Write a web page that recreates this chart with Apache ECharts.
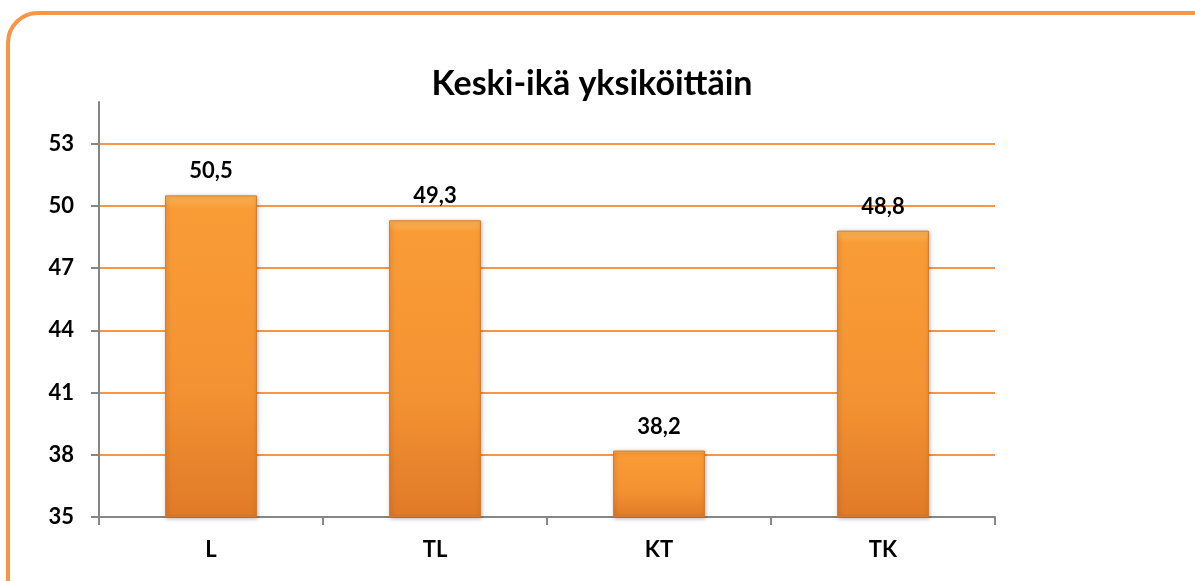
<!DOCTYPE html>
<html>
<head>
<meta charset="utf-8">
<script src="https://cdn.jsdelivr.net/npm/echarts@6/dist/echarts.min.js"></script>
<style>
  html, body { margin: 0; padding: 0; background: #fff; }
  #main { width: 1195px; height: 581px; }
</style>
</head>
<body>
<div id="main"></div>
<script>
// data
const categories = ['L', 'TL', 'KT', 'TK']
const values = [50.5, 49.3, 38.2, 48.8]
const yTicks = [35, 38, 41, 44, 47, 50, 53]

const chart = echarts.init(document.getElementById('main'))
const font = 'Lato, "Open Sans", sans-serif'

const option = {
  backgroundColor: '#fff',
  animation: false,
  graphic: [{
    type: 'rect',
    z: -10,
    shape: { x: 8, y: 13, width: 1230, height: 620, r: 30 },
    style: { fill: '#fff', stroke: '#f79646', lineWidth: 4 }
  }],
  title: {
    text: 'Keski-ikä yksiköittäin',
    left: 587,
    top: 62,
    textAlign: 'center',
    textStyle: { fontFamily: font, fontSize: 34, fontWeight: 'bold', color: '#000' }
  },
  grid: { left: 99, right: 200, top: 102, bottom: 64 },
  xAxis: {
    type: 'category',
    data: categories,
    axisLine: { lineStyle: { color: '#868686', width: 2 } },
    axisTick: { show: true, length: 8, lineStyle: { color: '#868686', width: 2 } },
    axisLabel: { margin: 22, fontFamily: font, fontSize: 22, fontWeight: 'bold', color: '#000' }
  },
  yAxis: {
    type: 'value',
    min: 35,
    max: 55,
    interval: 3,
    axisLine: { show: true, lineStyle: { color: '#868686', width: 2 } },
    axisTick: { show: true, length: 8, customValues: yTicks, lineStyle: { color: '#868686', width: 2 } },
    axisLabel: {
      customValues: yTicks,
      margin: 25,
      fontFamily: font, fontSize: 22, fontWeight: 'bold', color: '#000'
    },
    splitLine: {
      lineStyle: {
        color: ['#f79646', '#f79646', '#f79646', '#f79646', '#f79646', '#f79646', '#f79646', 'rgba(0,0,0,0)'],
        width: 2
      }
    }
  },
  series: [{
    type: 'bar',
    data: values,
    barWidth: '41%',
    itemStyle: {
      color: new echarts.graphic.LinearGradient(0, 0, 0, 1, [
        { offset: 0, color: '#fbb55a' },
        { offset: 0.04, color: '#f99c36' },
        { offset: 0.6, color: '#f39232' },
        { offset: 1, color: '#e07a28' }
      ]),
      borderColor: '#d9782a',
      borderWidth: 1,
      shadowColor: 'rgba(0,0,0,0.3)',
      shadowBlur: 4,
      shadowOffsetX: 1,
      shadowOffsetY: 1
    },
    label: {
      show: true,
      position: 'top',
      distance: 13,
      fontFamily: font,
      fontSize: 22,
      fontWeight: 'bold',
      color: '#000',
      formatter: p => String(p.value).replace('.', ',')
    }
  }]
}

chart.setOption(option)
</script>
</body>
</html>
